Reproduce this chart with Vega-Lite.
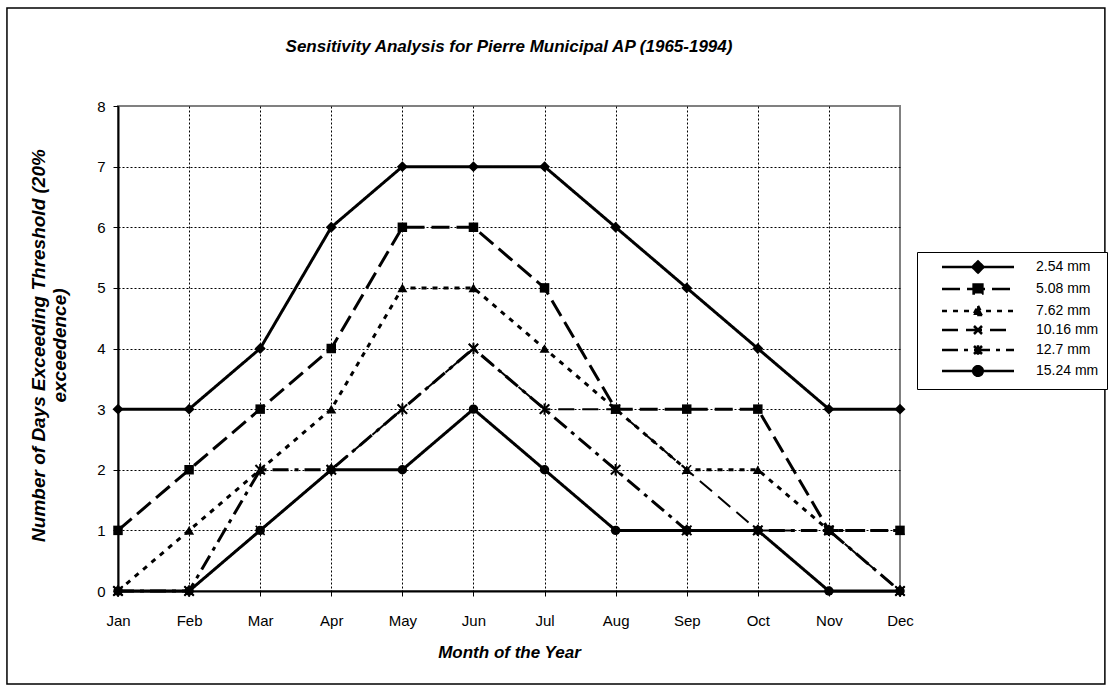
{
  "$schema": "https://vega.github.io/schema/vega-lite/v6.json",
  "width": 782,
  "height": 485,
  "autosize": {"type": "none"},
  "padding": {"left": 118, "top": 106, "right": 212, "bottom": 101},
  "background": "white",
  "title": {"text": "Sensitivity Analysis for Pierre Municipal AP (1965-1994)", "font": "Liberation Sans", "fontSize": 17, "fontWeight": "bold", "fontStyle": "italic", "color": "black", "anchor": "middle", "baseline": "alphabetic", "offset": -62},
  "config": {
    "view": {"stroke": "#808080", "strokeWidth": 2},
    "axis": {"domainColor": "black", "domainWidth": 2, "tickColor": "black", "tickWidth": 1, "tickSize": 5, "labelFont": "Liberation Sans", "labelFontSize": 15, "labelColor": "black", "titleFont": "Liberation Sans", "titleFontSize": 17, "titleFontWeight": "bold", "titleFontStyle": "italic", "titleColor": "black", "gridColor": "black", "gridDash": [2, 2], "gridWidth": 1},
    "legend": {"strokeColor": "black", "fillColor": "white", "padding": 8, "symbolSize": 64, "symbolStrokeWidth": 2.5, "symbolFillColor": "black", "symbolOffset": 46, "labelOffset": 51, "labelFont": "Liberation Sans", "labelFontSize": 14, "labelColor": "black", "rowPadding": 1}
  },
  "data": {"values": [
    {"month": "Jan", "series": "2.54 mm", "days": 3}, {"month": "Feb", "series": "2.54 mm", "days": 3}, {"month": "Mar", "series": "2.54 mm", "days": 4}, {"month": "Apr", "series": "2.54 mm", "days": 6}, {"month": "May", "series": "2.54 mm", "days": 7}, {"month": "Jun", "series": "2.54 mm", "days": 7}, {"month": "Jul", "series": "2.54 mm", "days": 7}, {"month": "Aug", "series": "2.54 mm", "days": 6}, {"month": "Sep", "series": "2.54 mm", "days": 5}, {"month": "Oct", "series": "2.54 mm", "days": 4}, {"month": "Nov", "series": "2.54 mm", "days": 3}, {"month": "Dec", "series": "2.54 mm", "days": 3},
    {"month": "Jan", "series": "5.08 mm", "days": 1}, {"month": "Feb", "series": "5.08 mm", "days": 2}, {"month": "Mar", "series": "5.08 mm", "days": 3}, {"month": "Apr", "series": "5.08 mm", "days": 4}, {"month": "May", "series": "5.08 mm", "days": 6}, {"month": "Jun", "series": "5.08 mm", "days": 6}, {"month": "Jul", "series": "5.08 mm", "days": 5}, {"month": "Aug", "series": "5.08 mm", "days": 3}, {"month": "Sep", "series": "5.08 mm", "days": 3}, {"month": "Oct", "series": "5.08 mm", "days": 3}, {"month": "Nov", "series": "5.08 mm", "days": 1}, {"month": "Dec", "series": "5.08 mm", "days": 1},
    {"month": "Jan", "series": "7.62 mm", "days": 0}, {"month": "Feb", "series": "7.62 mm", "days": 1}, {"month": "Mar", "series": "7.62 mm", "days": 2}, {"month": "Apr", "series": "7.62 mm", "days": 3}, {"month": "May", "series": "7.62 mm", "days": 5}, {"month": "Jun", "series": "7.62 mm", "days": 5}, {"month": "Jul", "series": "7.62 mm", "days": 4}, {"month": "Aug", "series": "7.62 mm", "days": 3}, {"month": "Sep", "series": "7.62 mm", "days": 2}, {"month": "Oct", "series": "7.62 mm", "days": 2}, {"month": "Nov", "series": "7.62 mm", "days": 1}, {"month": "Dec", "series": "7.62 mm", "days": 1},
    {"month": "Jan", "series": "10.16 mm", "days": 0}, {"month": "Feb", "series": "10.16 mm", "days": 0}, {"month": "Mar", "series": "10.16 mm", "days": 1}, {"month": "Apr", "series": "10.16 mm", "days": 2}, {"month": "May", "series": "10.16 mm", "days": 3}, {"month": "Jun", "series": "10.16 mm", "days": 4}, {"month": "Jul", "series": "10.16 mm", "days": 3}, {"month": "Aug", "series": "10.16 mm", "days": 3}, {"month": "Sep", "series": "10.16 mm", "days": 2}, {"month": "Oct", "series": "10.16 mm", "days": 1}, {"month": "Nov", "series": "10.16 mm", "days": 1}, {"month": "Dec", "series": "10.16 mm", "days": 0},
    {"month": "Jan", "series": "12.7 mm", "days": 0}, {"month": "Feb", "series": "12.7 mm", "days": 0}, {"month": "Mar", "series": "12.7 mm", "days": 2}, {"month": "Apr", "series": "12.7 mm", "days": 2}, {"month": "May", "series": "12.7 mm", "days": 3}, {"month": "Jun", "series": "12.7 mm", "days": 4}, {"month": "Jul", "series": "12.7 mm", "days": 3}, {"month": "Aug", "series": "12.7 mm", "days": 2}, {"month": "Sep", "series": "12.7 mm", "days": 1}, {"month": "Oct", "series": "12.7 mm", "days": 1}, {"month": "Nov", "series": "12.7 mm", "days": 1}, {"month": "Dec", "series": "12.7 mm", "days": 0},
    {"month": "Jan", "series": "15.24 mm", "days": 0}, {"month": "Feb", "series": "15.24 mm", "days": 0}, {"month": "Mar", "series": "15.24 mm", "days": 1}, {"month": "Apr", "series": "15.24 mm", "days": 2}, {"month": "May", "series": "15.24 mm", "days": 2}, {"month": "Jun", "series": "15.24 mm", "days": 3}, {"month": "Jul", "series": "15.24 mm", "days": 2}, {"month": "Aug", "series": "15.24 mm", "days": 1}, {"month": "Sep", "series": "15.24 mm", "days": 1}, {"month": "Oct", "series": "15.24 mm", "days": 1}, {"month": "Nov", "series": "15.24 mm", "days": 0}, {"month": "Dec", "series": "15.24 mm", "days": 0}
  ]},
  "resolve": {"scale": {"x": "independent", "y": "independent"}},
  "layer": [
    {
      "data": {"values": [{}]},
      "mark": {"type": "rect", "filled": false, "stroke": "black", "strokeWidth": 1.5},
      "encoding": {
        "x": {"datum": -0.142, "type": "quantitative", "scale": {"domain": [0, 1]}, "axis": null},
        "x2": {"datum": 1.262},
        "y": {"datum": 1.202, "type": "quantitative", "scale": {"domain": [0, 1]}, "axis": null},
        "y2": {"datum": -0.192}
      }
    },
    {
      "encoding": {
        "x": {"field": "month", "type": "ordinal", "scale": {"type": "point", "padding": 0, "domain": ["Jan", "Feb", "Mar", "Apr", "May", "Jun", "Jul", "Aug", "Sep", "Oct", "Nov", "Dec"]},
          "axis": {"title": "Month of the Year", "labelAngle": 0, "labelPadding": 17, "grid": true, "titleY": 66, "titleBaseline": "alphabetic", "gridOpacity": {"condition": {"test": "datum.value === 'Dec'", "value": 0}, "value": 1}}},
        "y": {"field": "days", "type": "quantitative", "scale": {"domain": [0, 8]},
          "axis": {"title": ["Number of Days Exceeding Threshold (20%", "exceedence)"], "titleFontSize": 19, "values": [0, 1, 2, 3, 4, 5, 6, 7, 8], "labelPadding": 8, "grid": true, "titleX": -70, "titleY": 239, "titleAlign": "center", "titleBaseline": "bottom", "titleLineHeight": 21, "gridOpacity": {"condition": {"test": "datum.value === 8", "value": 0}, "value": 1}}}
      },
      "layer": [
        {
          "mark": {"type": "line", "color": "black", "strokeCap": "butt", "strokeJoin": "miter"},
          "encoding": {
            "strokeDash": {"field": "series", "type": "nominal",
              "scale": {"domain": ["2.54 mm", "5.08 mm", "7.62 mm", "10.16 mm", "12.7 mm", "15.24 mm"], "range": [[1, 0], [18, 7], [5, 6], [16, 8], [16, 6, 4, 6], [1, 0]]},
              "legend": {"title": null, "orient": "none", "legendX": 799, "legendY": 146}},
            "strokeWidth": {"condition": {"test": "datum.series === '10.16 mm'", "value": 2}, "value": 3},
            "order": {"value": null}
          }
        },
        {"transform": [{"filter": "datum.series === '2.54 mm'"}], "mark": {"type": "point", "shape": "diamond", "filled": true, "size": 120, "color": "black", "opacity": 1}},
        {"transform": [{"filter": "datum.series === '5.08 mm'"}], "mark": {"type": "point", "shape": "square", "filled": true, "size": 90, "color": "black", "opacity": 1}},
        {"transform": [{"filter": "datum.series === '7.62 mm'"}], "mark": {"type": "point", "shape": "triangle-up", "filled": true, "size": 100, "color": "black", "opacity": 1}},
        {"transform": [{"filter": "datum.series === '10.16 mm'"}], "mark": {"type": "point", "shape": "M-1,-1L1,1M-1,1L1,-1", "filled": false, "size": 80, "color": "black", "strokeWidth": 1.5, "opacity": 1}},
        {"transform": [{"filter": "datum.series === '12.7 mm'"}], "mark": {"type": "point", "shape": "M-1,-1L1,1M-1,1L1,-1M0,-1.2L0,1.2", "filled": false, "size": 90, "color": "black", "strokeWidth": 2, "opacity": 1}},
        {"transform": [{"filter": "datum.series === '15.24 mm'"}], "mark": {"type": "point", "shape": "circle", "filled": true, "size": 90, "color": "black", "opacity": 1}},
        {
          "transform": [{"filter": "datum.days > 100"}],
          "mark": {"type": "point", "filled": true, "fill": "black", "stroke": "black", "opacity": 1},
          "encoding": {
            "shape": {"field": "series", "type": "nominal",
              "scale": {"domain": ["2.54 mm", "5.08 mm", "7.62 mm", "10.16 mm", "12.7 mm", "15.24 mm"], "range": ["M0,-1.4L1.4,0L0,1.4L-1.4,0ZM-9,0H9", "M-1.1,-1.1H1.1V1.1H-1.1ZM-9,0H9", "M0,-1.3L1.2,1L-1.2,1ZM-9,0H9", "M-1,-1L1,1M-1,1L1,-1M-9,0H9", "M-1,-1L1,1M-1,1L1,-1M0,-1.2V1.2M-9,0H9", "M1.2,0A1.2,1.2 0 1,1 -1.2,0A1.2,1.2 0 1,1 1.2,0ZM-9,0H9"]},
              "legend": {"title": null, "orient": "none", "legendX": 799, "legendY": 146}}
          }
        }
      ]
    }
  ]
}
